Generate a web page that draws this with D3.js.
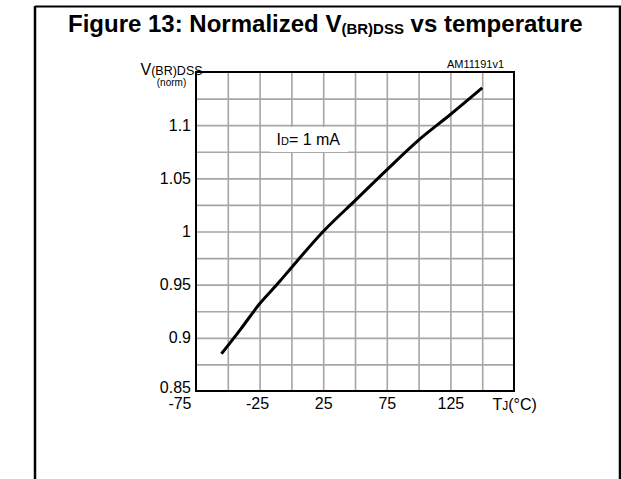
<!DOCTYPE html>
<html>
<head>
<meta charset="utf-8">
<script src="https://cdn.jsdelivr.net/npm/d3@7/dist/d3.min.js"></script>
<style>
  html, body { margin: 0; padding: 0; background: #fff; }
  svg { display: block; }
  text { font-family: "Liberation Sans", Arial, sans-serif; fill: #000; }
</style>
</head>
<body>
<svg id="chart" width="621" height="479"></svg>
<script>
// ---- data ----
const tempC = [-55, -40, -25, -10, 0, 25, 50, 75, 100, 125, 150];
const vbrNorm = [0.885, 0.908, 0.932, 0.952, 0.966, 1.0, 1.029, 1.058, 1.086, 1.110, 1.135];
const xTickLabels = [-75, -25, 25, 75, 125];
const yTickLabels = [0.85, 0.9, 0.95, 1, 1.05, 1.1];
const xGridValues = [-50, -25, 0, 25, 50, 75, 100, 125, 150];
const yGridValues = [0.875, 0.9, 0.925, 0.95, 0.975, 1.0, 1.025, 1.05, 1.075, 1.1, 1.125];
const xDomain = [-75, 175];
const yDomain = [0.85, 1.15];

const svg = d3.select("#chart");

// page frame
svg.append("line").attr("x1", 35).attr("x2", 35).attr("y1", 6).attr("y2", 479)
  .attr("stroke", "#000").attr("stroke-width", 2.5);
svg.append("line").attr("x1", 620).attr("x2", 620).attr("y1", 6).attr("y2", 479)
  .attr("stroke", "#000").attr("stroke-width", 2.5);
svg.append("line").attr("x1", 35).attr("x2", 621).attr("y1", 6.5).attr("y2", 6.5)
  .attr("stroke", "#000").attr("stroke-width", 2);

// title
const title = svg.append("text").attr("x", 68).attr("y", 32)
  .attr("font-size", 24).attr("font-weight", "bold");
title.append("tspan").text("Figure 13: Normalized V");
title.append("tspan").attr("font-size", 15).attr("dy", 2).text("(BR)DSS");
title.append("tspan").attr("dy", -2).text(" vs temperature");

// plot geometry
const L = 196, R = 514, T = 72, B = 391;
const x = d3.scaleLinear().domain(xDomain).range([L, R]);
const y = d3.scaleLinear().domain(yDomain).range([B, T]);

// grid
const gx = svg.append("g").attr("transform", `translate(0,${B})`)
  .call(d3.axisBottom(x).tickValues(xGridValues).tickSize(-(B - T)).tickFormat(""));
const gy = svg.append("g").attr("transform", `translate(${L},0)`)
  .call(d3.axisLeft(y).tickValues(yGridValues).tickSize(-(R - L)).tickFormat(""));
[gx, gy].forEach(g => {
  g.select(".domain").remove();
  g.selectAll(".tick line").attr("stroke", "#a6a6a6").attr("stroke-width", 1.6);
});

// legend box (white background)
svg.append("rect").attr("x", 270).attr("y", 127).attr("width", 78).attr("height", 25)
  .attr("fill", "#fff");
const leg = svg.append("text").attr("x", 276.5).attr("y", 144.5).attr("font-size", 16);
leg.append("tspan").text("I");
leg.append("tspan").attr("font-size", 11).text("D");
leg.append("tspan").text("= 1 mA");

// frame of plot
svg.append("rect").attr("x", L).attr("y", T).attr("width", R - L).attr("height", B - T)
  .attr("fill", "none").attr("stroke", "#000").attr("stroke-width", 2);

// curve
const line = d3.line().x((d, i) => x(tempC[i])).y(d => y(d)).curve(d3.curveMonotoneX);
svg.append("path").datum(vbrNorm).attr("d", line)
  .attr("fill", "none").attr("stroke", "#000").attr("stroke-width", 3)
  .attr("stroke-linecap", "butt");

// y axis labels
const ay = svg.append("g").attr("transform", `translate(${L},0)`)
  .call(d3.axisLeft(y).tickValues(yTickLabels).tickSize(0).tickPadding(5).tickFormat(d => String(d)));
ay.select(".domain").remove();
ay.selectAll("text").attr("font-size", 16).attr("fill", "#000")
  .attr("font-family", "Liberation Sans, Arial, sans-serif")
  .attr("dy", d => d === 0.85 ? "0.08em" : "0.32em");

// x axis labels
const ax = svg.append("g").attr("transform", `translate(0,${B})`)
  .call(d3.axisBottom(x).tickValues(xTickLabels).tickSize(0).tickPadding(0).tickFormat(d => String(d)));
ax.select(".domain").remove();
ax.selectAll("text").attr("font-size", 16).attr("fill", "#000")
  .attr("font-family", "Liberation Sans, Arial, sans-serif")
  .attr("dy", "1.1em")
  .attr("text-anchor", d => d === -75 ? "end" : "middle")
  .attr("x", d => d === -75 ? -5 : (d < 0 ? -2.5 : 0));

// x-axis title
const xt = svg.append("text").attr("x", 492.5).attr("y", 410).attr("font-size", 16);
xt.append("tspan").text("T");
xt.append("tspan").attr("font-size", 12).text("J");
xt.append("tspan").text("(°C)");

// y-axis title
const yt = svg.append("text").attr("x", 140.5).attr("y", 75).attr("font-size", 16);
yt.append("tspan").text("V");
yt.append("tspan").attr("font-size", 12.5).attr("dy", -0.5).text("(BR)DSS");
svg.append("text").attr("x", 171.5).attr("y", 86).attr("font-size", 10)
  .attr("text-anchor", "middle").text("(norm)");

// code
svg.append("text").attr("x", 504).attr("y", 67.5).attr("font-size", 11)
  .attr("text-anchor", "end").text("AM11191v1");
</script>
</body>
</html>
